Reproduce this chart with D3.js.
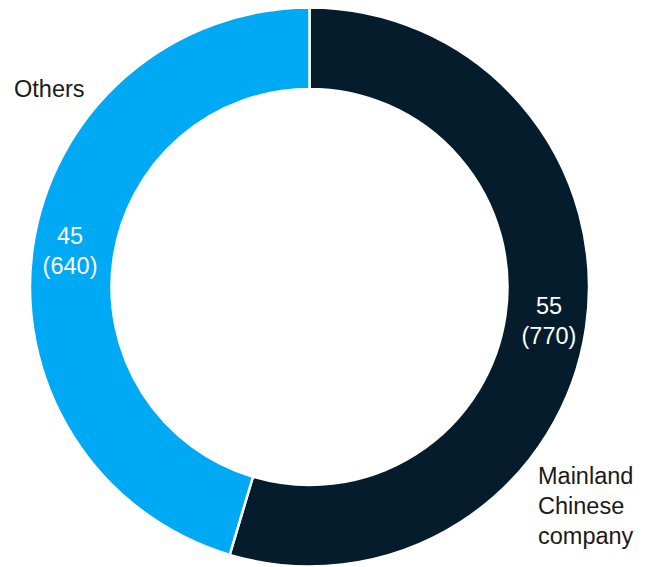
<!DOCTYPE html>
<html>
<head>
<meta charset="utf-8">
<script src="https://cdn.jsdelivr.net/npm/d3@7"></script>
<style>
html,body{margin:0;padding:0;background:#fff;}
svg{display:block;}
text{font-family:"Liberation Sans", Arial, sans-serif;}
</style>
</head>
<body>
<svg id="chart" width="653" height="567"></svg>
<script>
const categories = ["Mainland Chinese company", "Others"];
const shares = [55, 45];
const counts = [770, 640];
const colors = ["#051c2c", "#00a9f4"];
const outerLabels = [["Mainland", "Chinese", "company"], ["Others"]];

const svg = d3.select("#chart");
const cx = 309.5, cy = 287, rOuter = 279.5, rInner = 198;

const data = categories.map((c, i) => ({name: c, share: shares[i], count: counts[i], color: colors[i], outer: outerLabels[i]}));

const pie = d3.pie().sort(null).value(d => d.count);
const arcs = pie(data);
const arc = d3.arc().innerRadius(rInner).outerRadius(rOuter);
const labelArc = d3.arc().innerRadius(242).outerRadius(242);

const g = svg.append("g").attr("transform", `translate(${cx},${cy})`);

g.selectAll("path.slice").data(arcs).join("path")
  .attr("class", "slice")
  .attr("d", arc)
  .attr("fill", d => d.data.color)
  .attr("stroke", "#fff")
  .attr("stroke-width", 2.5);

// inner value labels
const vl = g.selectAll("text.val").data(arcs).join("text")
  .attr("class", "val")
  .attr("text-anchor", "middle")
  .attr("fill", "#fff")
  .attr("font-size", 23.5)
  .attr("transform", d => { const [x, y] = labelArc.centroid(d); return `translate(${x},${y})`; });
vl.append("tspan").attr("x", 0).attr("y", -8).text(d => d.data.share);
vl.append("tspan").attr("x", 0).attr("y", 22).text(d => `(${d.data.count})`);

// outer category labels
const outerPos = [{x: 538, y: 484}, {x: 14, y: 97}];
svg.selectAll("text.cat").data(arcs).join("text")
  .attr("class", "cat")
  .attr("fill", "#1a1a1a")
  .attr("font-size", 23.5)
  .each(function(d, i) {
    const t = d3.select(this);
    d.data.outer.forEach((line, j) => {
      t.append("tspan").attr("x", outerPos[i].x).attr("y", outerPos[i].y + j * 30).text(line);
    });
  });
</script>
</body>
</html>
